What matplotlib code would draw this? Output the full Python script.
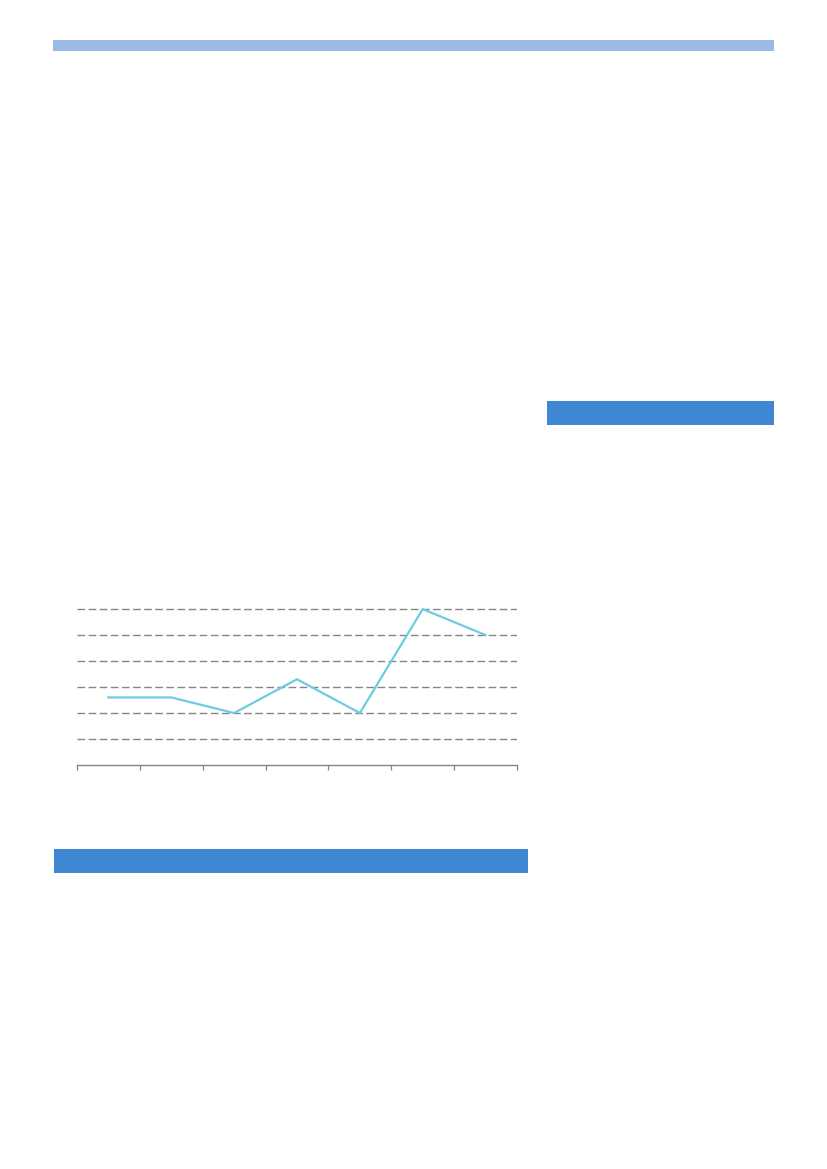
import matplotlib
matplotlib.use('Agg')
import matplotlib.pyplot as plt
from matplotlib.patches import Rectangle

W, H = 827, 1169

# chart data (no labels are shown on the page)
categories = ['1', '2', '3', '4', '5', '6', '7']
values = [2.6, 2.6, 2.0, 3.3, 2.0, 6.0, 5.0]
y_ticks = [1, 2, 3, 4, 5, 6]

LIGHT_BLUE = '#9BBBE6'
MID_BLUE = '#3F88D1'
LINE_CYAN = '#6DCDE0'
GRID_GREY = '#858585'


def px_box(x0, y0, x1, y1):
    """Pixel box (top-left origin) -> figure fraction [left, bottom, w, h]."""
    return [x0 / W, 1 - y1 / H, (x1 - x0) / W, (y1 - y0) / H]


fig = plt.figure(figsize=(W / 100, H / 100), dpi=100)

# decorative header / section bars
for (x0, y0, x1, y1), col in [((53, 40, 774, 51), LIGHT_BLUE),
                              ((547, 401, 774, 425), MID_BLUE),
                              ((54, 849, 528, 873), MID_BLUE)]:
    l, b, w, h = px_box(x0, y0, x1, y1)
    fig.patches.append(Rectangle((l, b), w, h, transform=fig.transFigure,
                                 facecolor=col, edgecolor='none'))

# line chart
ax = fig.add_axes(px_box(77, 600, 517, 765))
x = [i + 0.5 for i in range(len(categories))]
ax.plot(x, values, color=LINE_CYAN, linewidth=1.6, solid_joinstyle='miter')
ax.set_xlim(0, len(categories))
ax.set_ylim(0, 6.35)

for yv in y_ticks:
    ax.axhline(yv, color=GRID_GREY, linewidth=1.0, linestyle=(0, (5.5, 2.5)), zorder=0)

ax.set_xticks(range(len(categories) + 1))
ax.set_xticklabels([])
ax.set_yticks([])
ax.tick_params(axis='x', direction='out', length=3.5, color=GRID_GREY, width=0.9)
for side in ['top', 'right', 'left']:
    ax.spines[side].set_visible(False)
ax.spines['bottom'].set_color(GRID_GREY)
ax.spines['bottom'].set_linewidth(1.0)
ax.patch.set_alpha(0)

fig.savefig('out.png', dpi=100)
